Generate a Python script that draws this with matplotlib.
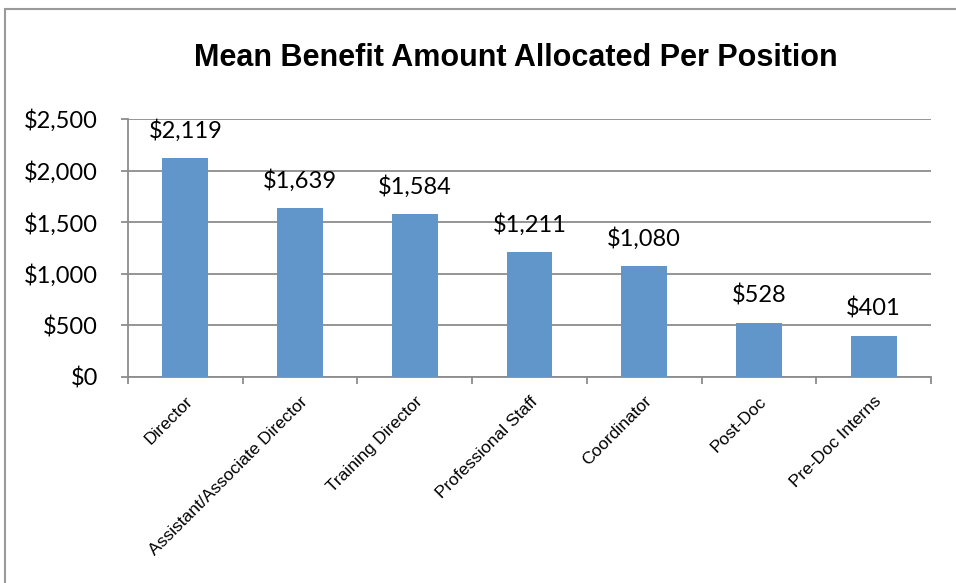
import matplotlib
matplotlib.use("Agg")
import matplotlib.pyplot as plt
from matplotlib.patches import Rectangle
from matplotlib import font_manager

categories = ["Director", "Assistant/Associate Director", "Training Director",
              "Professional Staff", "Coordinator", "Post-Doc", "Pre-Doc Interns"]
values = [2119, 1639, 1584, 1211, 1080, 528, 401]
yticks = [0, 500, 1000, 1500, 2000, 2500]
ytick_labels = ["$0", "$500", "$1,000", "$1,500", "$2,000", "$2,500"]
title = "Mean Benefit Amount Allocated Per Position"

names = {f.name for f in font_manager.fontManager.ttflist}
narrow = "Liberation Sans Narrow" if "Liberation Sans Narrow" in names else "Liberation Sans"
title_size = 27 if narrow == "Liberation Sans Narrow" else 22

W, H = 956, 583
fig = plt.figure(figsize=(W / 100, H / 100), dpi=100)
fig.patch.set_facecolor("white")

# outer chart border
fig.add_artist(Rectangle((5 / W, -0.1), 1.2, (H - 9) / H + 0.1, transform=fig.transFigure,
                         fill=False, edgecolor="#9a9a9a", linewidth=1.5))

left, right, top, bottom = 128, 931, 119, 377
ax = fig.add_axes([left / W, (H - bottom) / H, (right - left) / W, (bottom - top) / H])

grid_c = "#8c8c8c"
x = list(range(len(categories)))
ax.bar(x, values, width=0.4, color="#6096C9", zorder=3)
ax.set_xlim(-0.5, len(categories) - 0.5)
ax.set_ylim(0, 2500)

ax.set_yticks(yticks)
ax.set_yticklabels(ytick_labels, fontfamily="Lato", fontsize=17)
ax.yaxis.grid(True, color=grid_c, linewidth=1.3, zorder=0)
ax.tick_params(axis="y", length=5, width=1.3, color=grid_c, pad=16.5)

ax.set_xticks([i - 0.5 for i in range(len(categories) + 1)], minor=False)
ax.set_xticklabels([])
ax.set_xticks(x, minor=True)
ax.set_xticklabels(categories, minor=True, rotation=45, ha="right", va="top",
                   rotation_mode="anchor", fontfamily="Liberation Sans", fontsize=12.5)
ax.tick_params(axis="x", which="major", length=5, width=1.3, color=grid_c, direction="out")
ax.tick_params(axis="x", which="minor", length=0, pad=12)

for s in ["top", "right"]:
    ax.spines[s].set_visible(False)
ax.spines["left"].set_color(grid_c)
ax.spines["bottom"].set_color(grid_c)
ax.spines["left"].set_linewidth(1.3)
ax.spines["bottom"].set_linewidth(1.3)

for xi, v in zip(x, values):
    ax.annotate(f"${v:,}", (xi, v), xytext=(0, 14.4), textcoords="offset points",
                ha="center", va="baseline", fontfamily="Lato", fontsize=17)

fig.text(516 / W, 1 - 66 / H, title, ha="center", va="baseline",
         fontfamily=narrow, fontweight="bold", fontsize=title_size)

fig.savefig("out.png", dpi=100)
